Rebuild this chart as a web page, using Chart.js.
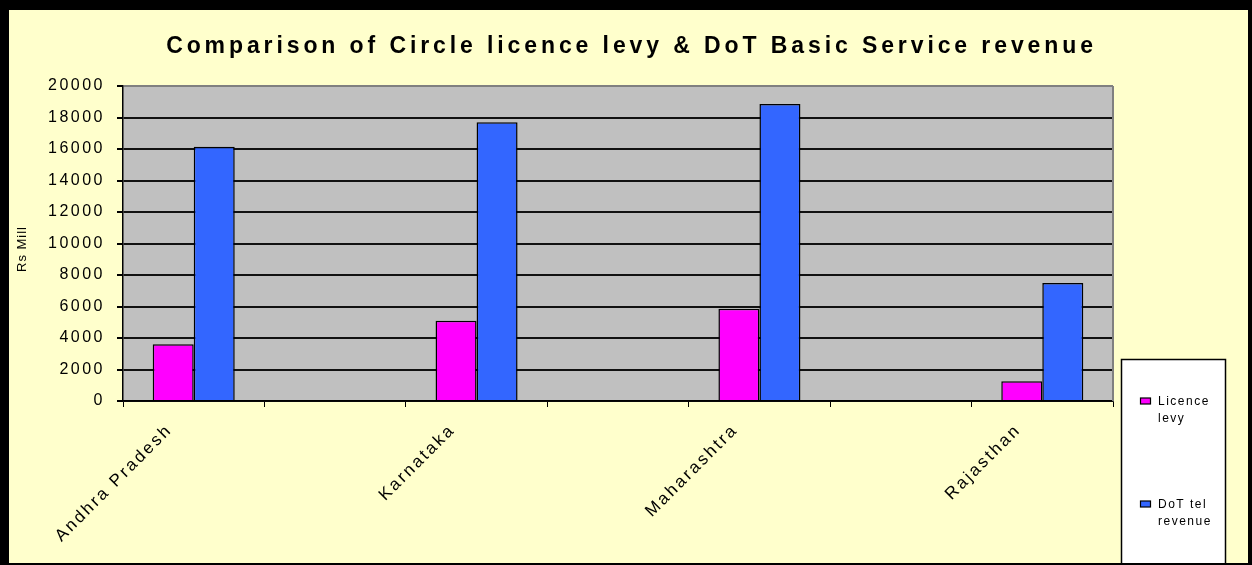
<!DOCTYPE html>
<html>
<head>
<meta charset="utf-8">
<script src="https://cdn.jsdelivr.net/npm/chart.js@4/dist/chart.umd.min.js"></script>
<style>
  html, body { margin: 0; padding: 0; background: #000; }
  #wrap { position: absolute; left: 9px; top: 10px; width: 1239px; height: 553px; background: #ffffcc; }
  canvas { display: block; }
</style>
</head>
<body>
<div id="wrap"><canvas id="chart" width="1239" height="553"></canvas></div>
<script>
  const titleText = "Comparison of Circle licence levy & DoT Basic Service revenue";
  const yTitle = "Rs Mill";

  // blank categories sit between the circles, as in the original sheet
  const categories = ["Andhra Pradesh", "", "Karnataka", "", "Maharashtra", "", "Rajasthan"];
  const licenceLevy = [3600, null, 5100, null, 5850, null, 1250];
  const dotRevenue = [16150, null, 17700, null, 18850, null, 7500];
  const seriesNames = ["Licence levy", "DoT tel revenue"];
  const yTicks = [0, 2000, 4000, 6000, 8000, 10000, 12000, 14000, 16000, 18000, 20000];

  const FONT = "'Liberation Sans', Arial, sans-serif";
  Chart.defaults.font.family = FONT;
  Chart.defaults.font.size = 16;
  Chart.defaults.color = "#000";

  // the old chart text is drawn widely spaced
  const spacing = {
    id: "spacing",
    beforeUpdate(c) { c.ctx.letterSpacing = "2.5px"; },
    beforeDraw(c) { c.ctx.letterSpacing = "2.5px"; }
  };

  const plotBg = {
    id: "plotBg",
    beforeDraw(c) {
      const { ctx, chartArea: a } = c;
      ctx.save();
      ctx.fillStyle = "#c0c0c0";
      ctx.fillRect(a.left, a.top, a.right - a.left, a.bottom - a.top);
      ctx.restore();
    },
    beforeDatasetsDraw(c) {
      const { ctx, chartArea: a } = c;
      ctx.save();
      ctx.strokeStyle = "#808080";
      ctx.lineWidth = 2;
      ctx.beginPath();
      ctx.moveTo(a.right, a.top);
      ctx.lineTo(a.right, a.bottom);
      ctx.stroke();
      ctx.restore();
    }
  };

  const extras = {
    id: "extras",
    afterDraw(c) {
      const ctx = c.ctx;
      ctx.save();
      // title
      ctx.letterSpacing = "3.9px";
      ctx.font = "bold 23px " + FONT;
      ctx.fillStyle = "#000";
      ctx.textAlign = "center";
      ctx.textBaseline = "alphabetic";
      ctx.fillText(titleText, c.width / 2 + 3, 43);

      // y axis title
      ctx.letterSpacing = "1px";
      ctx.font = "13px " + FONT;
      ctx.save();
      ctx.translate(13, 239);
      ctx.rotate(-Math.PI / 2);
      ctx.textBaseline = "middle";
      ctx.fillText(yTitle, 0, 0);
      ctx.restore();

      // legend box
      ctx.fillStyle = "#fff";
      ctx.fillRect(1112, 349, 104, 220);
      ctx.strokeStyle = "#000";
      ctx.lineWidth = 1.5;
      ctx.strokeRect(1112.5, 349.5, 104, 220);

      ctx.letterSpacing = "1.5px";
      ctx.font = "12px " + FONT;
      ctx.textAlign = "left";
      ctx.textBaseline = "middle";
      const rows = [388, 491];
      c.data.datasets.forEach((ds, i) => {
        const y = rows[i];
        ctx.fillStyle = ds.backgroundColor;
        ctx.fillRect(1131.5, y, 10, 6);
        ctx.strokeStyle = "#000";
        ctx.lineWidth = 1.2;
        ctx.strokeRect(1131.5, y, 10, 6);
        // wrap label into lines that fit the box
        const words = ds.label.split(" ");
        const lines = [];
        let line = "";
        words.forEach(w => {
          const t = line ? line + " " + w : w;
          if (line && ctx.measureText(t).width > 62) { lines.push(line); line = w; }
          else line = t;
        });
        lines.push(line);
        ctx.fillStyle = "#000";
        lines.forEach((l, k) => ctx.fillText(l, 1149, y + 4 + k * 17));
      });
      ctx.restore();
    }
  };

  new Chart(document.getElementById("chart"), {
    type: "bar",
    data: {
      labels: categories,
      datasets: [
        { label: seriesNames[0], data: licenceLevy, backgroundColor: "#ff00ff", borderColor: "#000", borderWidth: 1.5 },
        { label: seriesNames[1], data: dotRevenue, backgroundColor: "#3366ff", borderColor: "#000", borderWidth: 1.5 }
      ]
    },
    options: {
      responsive: false,
      animation: false,
      layout: { padding: { top: 76, right: 135, left: 0, bottom: 0 } },
      datasets: { bar: { categoryPercentage: 0.58, barPercentage: 1.0 } },
      plugins: { legend: { display: false }, title: { display: false }, tooltip: { enabled: false } },
      scales: {
        x: {
          afterFit: s => { s.height = 162; },
          grid: { drawOnChartArea: false, color: "#000", tickLength: 6, offset: true },
          border: { color: "#000", width: 1.5 },
          ticks: { autoSkip: false, minRotation: 45, maxRotation: 45, padding: 13, labelOffset: -24, font: { size: 17 } }
        },
        y: {
          min: 0,
          max: 20000,
          afterFit: s => { s.width = 114; },
          afterBuildTicks: s => { s.ticks = yTicks.map(v => ({ value: v })); },
          grid: {
            color: ctx => ctx.tick && ctx.tick.value === 20000 ? "#808080" : "#111",
            lineWidth: 2,
            tickLength: 6,
            tickColor: "#000"
          },
          border: { color: "#000", width: 1.5 },
          ticks: { padding: 12, font: { size: 16 }, callback: v => String(v) }
        }
      }
    },
    plugins: [spacing, plotBg, extras]
  });
</script>
</body>
</html>
